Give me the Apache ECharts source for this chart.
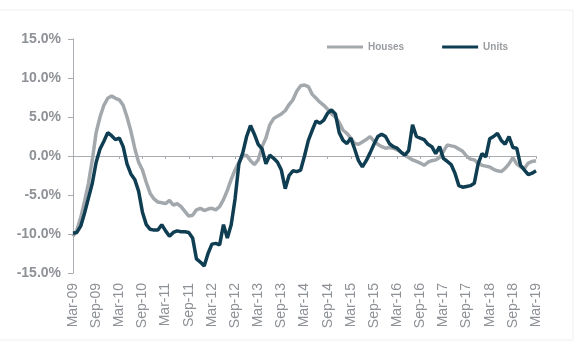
<!DOCTYPE html>
<html>
<head>
  <meta charset="utf-8">
  <script src="https://cdn.jsdelivr.net/npm/echarts@6/dist/echarts.min.js"></script>
</head>
<body style="margin:0;background:#fff;">
  <div id="main" style="width:580px;height:352px;"></div>
  <script>
    var months = ['Jan','Feb','Mar','Apr','May','Jun','Jul','Aug','Sep','Oct','Nov','Dec'];
    var categories = [];
    for (var i = 0; i < 121; i++) {
      var m = (2 + i) % 12;
      var y = 9 + Math.floor((2 + i) / 12);
      categories.push(months[m] + '-' + (y < 10 ? '0' + y : y));
    }

    var houses = [
      -10.3, -9.5, -7.9, -5.8, -3.5, -0.5, 3.0, 5.0, 6.5, 7.4, 7.7, 7.4,
      7.2, 6.5, 5.0, 3.2, 1.0, -0.8, -1.8, -3.4, -4.8, -5.5, -5.9, -6.0,
      -6.1, -5.7, -6.3, -6.1, -6.5, -7.1, -7.7, -7.6, -6.9, -6.7, -7.0, -6.8,
      -6.7, -6.9, -6.5, -5.6, -4.4, -3.0, -1.8, -0.8, 0.0, 0.1, -0.6, -1.1,
      -0.5, 1.2, 2.3, 4.0, 4.8, 5.1, 5.4, 5.8, 6.6, 7.2, 8.3, 9.0,
      9.1, 8.9, 7.9, 7.4, 6.9, 6.5, 6.0, 5.4, 5.0, 4.3, 3.3, 2.9,
      2.3, 1.6, 1.5, 1.8, 2.1, 2.5, 1.9, 1.5, 1.2, 1.0, 1.1, 1.0,
      0.8, 0.5, 0.1, -0.2, -0.5, -0.7, -0.9, -1.2, -0.8, -0.6, -0.5, -0.2,
      0.6, 1.4, 1.3, 1.2, 0.9, 0.6, 0.0, -0.4, -0.5, -0.9, -1.2, -1.3,
      -1.4, -1.7, -1.9, -2.0, -1.6, -1.0, -0.2, -1.0, -1.4, -1.6, -0.9, -0.7,
      -0.6
    ];

    var units = [
      -9.9, -9.8, -9.0, -7.3, -5.4, -3.5, -0.8, 0.9, 1.9, 3.0, 2.6, 2.1,
      2.3, 1.2, -1.0, -2.3, -3.0, -4.5, -7.2, -8.8, -9.4, -9.5, -9.5, -8.8,
      -9.6, -10.3, -9.8, -9.6, -9.7, -9.7, -9.8, -10.5, -13.2, -13.6, -14.1, -12.5,
      -11.3, -11.2, -11.4, -8.8, -10.5, -8.8, -5.5, -1.0, 0.4, 2.5, 3.9, 2.8,
      1.5, 0.9, -1.0, 0.1, -0.3, -0.8, -1.8, -4.2, -2.5, -1.9, -2.0, -1.8,
      0.0, 2.0, 3.3, 4.5, 4.2, 4.6, 5.5, 5.9, 5.4, 3.0, 2.0, 1.6,
      2.3, 0.9, -0.6, -1.4, -0.6, 0.4, 1.5, 2.5, 2.8, 2.5, 1.6, 1.2,
      1.0, 0.5, 0.1, 0.7, 4.0, 2.5, 2.3, 2.1, 1.5, 1.2, 0.3, 1.2,
      -0.3, -0.7, -1.1, -2.2, -3.8, -4.0, -3.9, -3.8, -3.5, -1.0, 0.3, -0.1,
      2.2, 2.5, 2.9, 2.0, 1.5, 2.5, 1.1, 1.0, -1.2, -1.8, -2.4, -2.2,
      -1.9
    ];

    var yTicks = { min: -15, max: 15, interval: 5 };

    var labelGrey = '#8e9196';
    var axisGrey = '#a9acb0';

    var chart = echarts.init(document.getElementById('main'), null, { renderer: 'canvas' });

    var option = {
      animation: false,
      backgroundColor: '#fff',
      graphic: [{
        type: 'rect',
        shape: { x: -2, y: 10, width: 575, height: 330 },
        style: { fill: 'none', stroke: '#eeeeee', lineWidth: 1 },
        silent: true
      }],
      legend: {
        left: 322,
        top: 37,
        itemWidth: 36,
        itemHeight: 3,
        itemGap: 38,
        icon: 'rect',
        textStyle: { color: '#999ca0', fontSize: 10, fontWeight: 'bold', fontFamily: 'Arial' },
        data: ['Houses', 'Units']
      },
      grid: { left: 73, right: 44, top: 39, bottom: 79 },
      xAxis: [{
        type: 'category',
        data: categories,
        boundaryGap: false,
        axisLine: { show: false, onZero: false },
        axisTick: { show: false },
        axisLabel: {
          interval: 5,
          rotate: 90,
          margin: 10,
          color: labelGrey,
          fontSize: 14,
          fontFamily: 'Arial'
        },
        splitLine: { show: false }
      }, {
        type: 'category',
        data: categories,
        boundaryGap: false,
        position: 'top',
        axisLine: { show: true, onZero: true, lineStyle: { color: axisGrey, width: 1 } },
        axisTick: { show: true, inside: true, interval: 5, length: 3, lineStyle: { color: axisGrey } },
        axisLabel: { show: false },
        splitLine: { show: false }
      }],
      yAxis: {
        type: 'value',
        min: yTicks.min,
        max: yTicks.max,
        interval: yTicks.interval,
        axisLine: { show: true, lineStyle: { color: axisGrey, width: 1 } },
        axisTick: { show: true, length: 5, lineStyle: { color: axisGrey } },
        splitLine: { show: false },
        axisLabel: {
          margin: 12,
          color: labelGrey,
          fontSize: 14,
          fontWeight: 'bold',
          fontFamily: 'Arial',
          formatter: function (v) { return v.toFixed(1) + '%'; }
        }
      },
      series: [{
        name: 'Houses',
        type: 'line',
        xAxisIndex: 0,
        data: houses,
        symbol: 'none',
        color: '#a3a8ad',
        lineStyle: { width: 3.5, color: '#a3a8ad' },
        z: 2
      }, {
        name: 'Units',
        type: 'line',
        xAxisIndex: 0,
        data: units,
        symbol: 'none',
        color: '#0f3d52',
        lineStyle: { width: 3.5, color: '#0f3d52' },
        z: 3
      }]
    };

    chart.setOption(option);
  </script>
</body>
</html>
